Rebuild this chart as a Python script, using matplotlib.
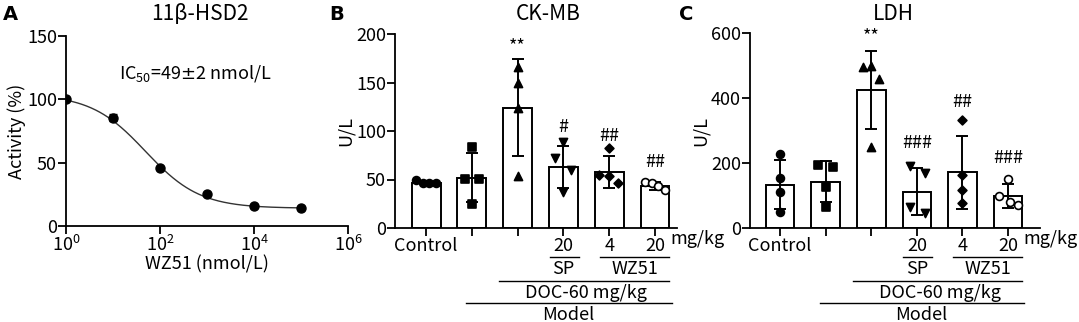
import numpy as np
import matplotlib.pyplot as plt
from matplotlib import transforms

plt.rcParams['font.family'] = ['Noto Sans CJK SC', 'DejaVu Sans']
plt.rcParams['axes.linewidth'] = 1.3
plt.rcParams['xtick.major.width'] = 1.3
plt.rcParams['ytick.major.width'] = 1.3
plt.rcParams['xtick.major.size'] = 5.5
plt.rcParams['ytick.major.size'] = 5.5

# panel A: 11b-HSD2 inhibition
conc = [1, 10, 100, 1000, 1e4, 1e5]
activity = [100, 85.5, 46, 25, 16, 14]
activity_err = [0, 3, 0, 0, 0, 0]
fit_top, fit_bottom, fit_ic50, fit_hill = 104, 14, 49, 0.75

# panels B and C
group_ticks = ['Control', '', '', '20', '4', '20']
ckmb_mean = [46, 52, 124, 63, 58, 43]
ckmb_sd = [1.5, 25, 50, 22, 16.5, 4]
ckmb_pts = [[50, 46, 46, 46], [83, 51, 51, 25], [166, 149, 124, 54],
            [89, 72, 60, 37], [82, 55, 54, 46], [47, 46, 43, 39]]
ckmb_sig = ['', '', '**', '#', '##', '##']
ckmb_sig_y = [0, 0, 187, 104, 95, 68]

ldh_mean = [133, 143, 425, 112, 172, 99]
ldh_sd = [76, 62, 120, 73, 112, 36]
ldh_pts = [[228, 153, 110, 50], [194, 189, 127, 64], [494, 498, 457, 250],
           [191, 170, 66, 47], [332, 163, 117, 76], [151, 99, 81, 71]]
ldh_sig = ['', '', '**', '###', '##', '###']
ldh_sig_y = [0, 0, 589, 260, 389, 216]

markers = ['o', 's', '^', 'v', 'D', 'o']
msizes = [32, 32, 34, 34, 20, 32]
ckmb_jit = [[-0.22, -0.07, 0.07, 0.22], [0, -0.15, 0.15, 0], [0, 0, 0, 0],
            [0, -0.18, 0.17, 0], [0, -0.23, 0, 0.2], [-0.22, -0.07, 0.07, 0.22]]
ldh_jit = [[0, 0, 0, 0], [-0.17, 0.17, 0, 0], [-0.19, 0, 0.16, 0],
           [-0.15, 0.17, -0.15, 0.17], [0, 0, 0, 0], [0, -0.21, 0.04, 0.22]]

W, H = 1079, 322
fig = plt.figure(figsize=(W / 100, H / 100), dpi=100)
FS = 13


def box(l, t, r, b):
    return [l / W, 1 - b / H, (r - l) / W, (b - t) / H]


# ---- A ----
axA = fig.add_axes(box(66, 36, 348, 226))
xs = np.logspace(0, 5, 300)
curve = fit_bottom + (fit_top - fit_bottom) / (1 + (xs / fit_ic50) ** fit_hill)
axA.plot(xs, curve, color='#333333', lw=1)
axA.errorbar(conc, activity, yerr=activity_err, fmt='o', color='black',
             ms=6.5, capsize=3, elinewidth=1.2)
axA.set_xscale('log')
axA.set_xlim(1, 1e6)
axA.set_ylim(0, 150)
axA.set_xticks([1, 1e2, 1e4, 1e6])
axA.set_xticklabels(['$\\mathregular{10^0}$', '$\\mathregular{10^2}$',
                     '$\\mathregular{10^4}$', '$\\mathregular{10^6}$'])
axA.xaxis.set_minor_locator(plt.NullLocator())
axA.set_yticks([0, 50, 100, 150])
axA.set_xlabel('WZ51 (nmol/L)', fontsize=FS, labelpad=0)
axA.set_ylabel('Activity (%)', fontsize=FS, labelpad=1)
axA.text(0.46, 0.8, 'IC$_{\\mathregular{50}}$=49$\\pm$2 nmol/L', transform=axA.transAxes,
         ha='center', va='center', fontsize=FS)


def bar_panel(ax, means, sds, pts, jit, sig, sig_y, ymax, ystep):
    pos = np.arange(len(means))
    ax.bar(pos, means, width=0.63, color='white', edgecolor='black', lw=1.4, zorder=1)
    ax.errorbar(pos, means, yerr=sds, fmt='none', ecolor='black',
                elinewidth=1.4, capsize=4.5, capthick=1.4, zorder=3)
    for i in range(len(means)):
        fc = 'white' if i == 5 else 'black'
        ax.scatter(pos[i] + np.array(jit[i]), pts[i], marker=markers[i], s=msizes[i],
                   facecolor=fc, edgecolor='black', linewidth=1.2, zorder=4)
        if sig[i]:
            ax.text(pos[i], sig_y[i], sig[i], ha='center', va='center', fontsize=FS)
    ax.set_ylim(0, ymax)
    ax.set_yticks(np.arange(0, ymax + 1, ystep))
    ax.set_xticks(pos)
    ax.set_xticklabels(group_ticks)
    ax.set_ylabel('U/L', fontsize=FS, labelpad=1)
    tr = transforms.blended_transform_factory(ax.transData, fig.transFigure)
    ax.text(5.33, 1 - 239 / H, 'mg/kg', transform=tr, ha='left', va='center', fontsize=FS)
    for x0, x1, y in [(2.7, 3.34, 257), (3.8, 5.3, 257), (1.6, 5.3, 281), (0.88, 5.36, 303)]:
        ax.plot([x0, x1], [1 - y / H] * 2, color='black', lw=1, transform=tr, clip_on=False)
    for x, y, s in [(3.0, 269, 'SP'), (4.55, 269, 'WZ51'), (3.5, 293, 'DOC-60 mg/kg'),
                    (3.1, 315, 'Model')]:
        ax.text(x, 1 - y / H, s, transform=tr, ha='center', va='center', fontsize=FS)


axB = fig.add_axes(box(395, 34, 677, 228))
bar_panel(axB, ckmb_mean, ckmb_sd, ckmb_pts, ckmb_jit, ckmb_sig, ckmb_sig_y, 200, 50)
axB.set_xlim(-0.68, 5.48)

axC = fig.add_axes(box(750, 33, 1040, 228))
bar_panel(axC, ldh_mean, ldh_sd, ldh_pts, ldh_jit, ldh_sig, ldh_sig_y, 600, 200)
axC.set_xlim(-0.66, 5.7)

for ax in [axA, axB, axC]:
    ax.spines['top'].set_visible(False)
    ax.spines['right'].set_visible(False)
    ax.tick_params(labelsize=FS, pad=1)

for x, s in [(200, '11β-HSD2'), (548, 'CK-MB'), (893, 'LDH')]:
    fig.text(x / W, 1 - 14 / H, s, ha='center', va='center', fontsize=15)
for x, s in [(10, 'A'), (337, 'B'), (686, 'C')]:
    fig.text(x / W, 1 - 15 / H, s, ha='center', va='center', fontsize=14, fontweight='bold',
             family='DejaVu Sans')

fig.savefig('out.png', dpi=100)
